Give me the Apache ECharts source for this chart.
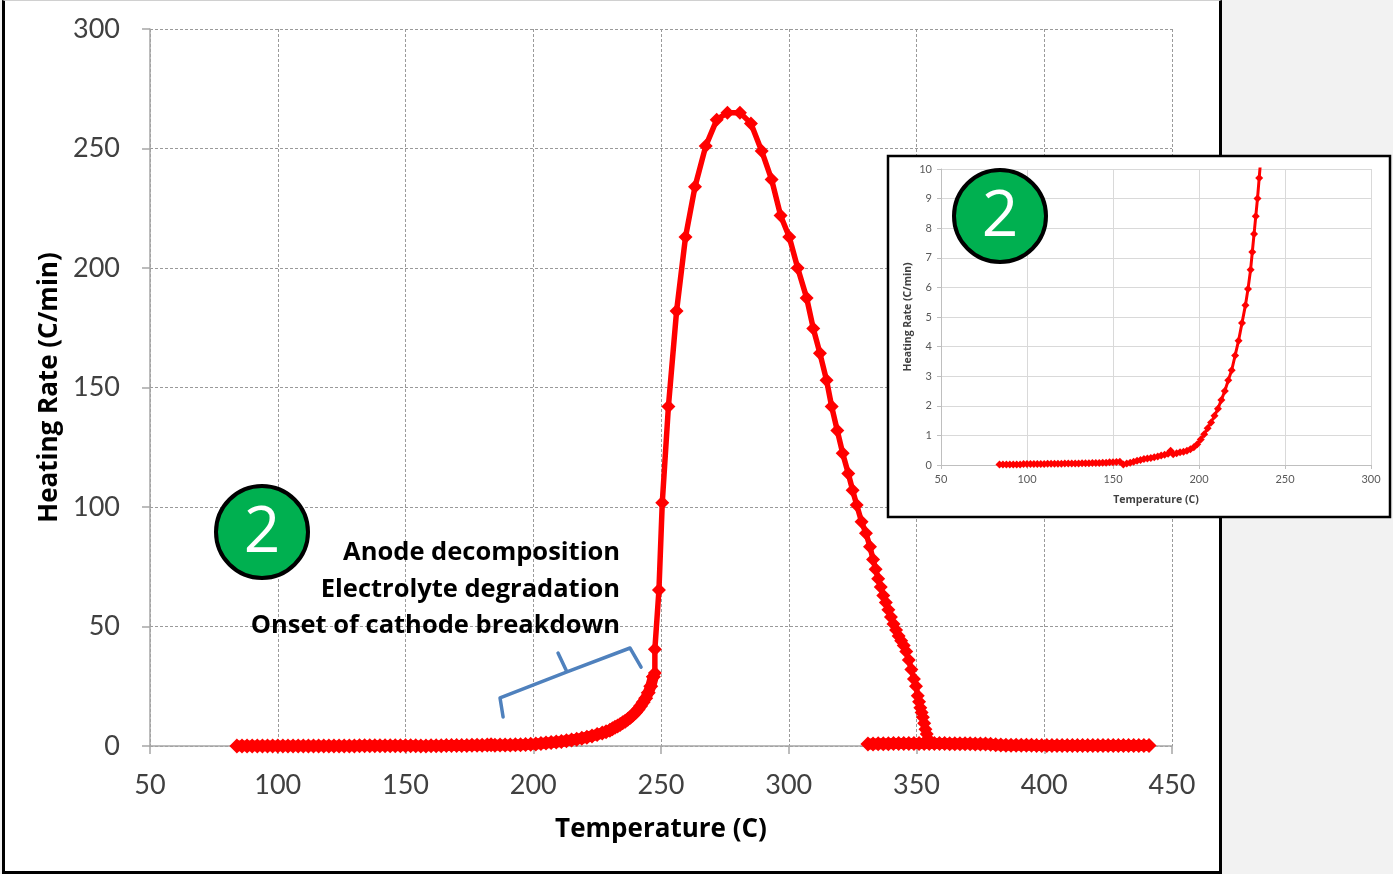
<!DOCTYPE html>
<html>
<head>
<meta charset="utf-8">
<script src="https://cdn.jsdelivr.net/npm/echarts@6/dist/echarts.min.js"></script>
<style>
  html, body { margin: 0; padding: 0; background: #f2f2f2; }
  #panel { position: absolute; left: 2px; top: 0; width: 1214px; height: 870px;
           background: #fff; border: 3px solid #000; border-top: 1px solid #d0d0d0; }
  #chart { position: absolute; left: 0; top: 0; width: 1393px; height: 874px; }
</style>
</head>
<body>
<div id="panel"></div>
<div id="chart"></div>
<script>
// 升温前段（密集采样）: 温度 / 升温速率
var preTemp = [84, 86, 88, 90, 92, 94, 96, 98, 100, 102, 104, 106, 108, 110, 112, 114, 116, 118, 120,
  122, 124, 126, 128, 130, 132, 134, 136, 138, 140, 142, 144, 146, 148, 150, 152, 154, 156, 158, 160,
  162, 164, 166, 168, 170, 172, 174, 176, 178, 180, 182, 183.5, 185, 187, 189, 191, 193, 195, 197, 199,
  201, 203, 205, 207, 209, 211, 213, 215, 217, 219, 221, 223, 225, 227, 228.5, 230, 231, 232, 233, 234,
  235, 236, 237, 238, 239, 240, 241, 242, 243, 244, 245, 246, 247];
var preRate = [0.02, 0.02, 0.02, 0.02, 0.02, 0.02, 0.02, 0.03, 0.03, 0.03, 0.03, 0.03, 0.03, 0.03, 0.04, 0.04, 0.04, 0.04, 0.04,
  0.05, 0.05, 0.05, 0.05, 0.05, 0.06, 0.06, 0.06, 0.07, 0.07, 0.07, 0.08, 0.08, 0.09, 0.09, 0.1, 0.11, 0.02, 0.05, 0.08,
  0.11, 0.14, 0.17, 0.2, 0.22, 0.24, 0.26, 0.29, 0.32, 0.35, 0.38, 0.48, 0.36, 0.4, 0.43, 0.45, 0.48, 0.53, 0.6, 0.7,
  0.86, 1.04, 1.24, 1.44, 1.66, 1.9, 2.2, 2.5, 2.86, 3.2, 3.7, 4.2, 4.8, 5.4, 5.95, 6.6, 7.2, 7.8, 8.4, 9.0,
  9.7, 10.4, 11.2, 12, 13, 14, 15.3, 16.7, 18.3, 20, 22.3, 25, 29];

// 热失控段
var runTemp = [247, 247.6, 247.6, 249.2, 250.5, 252.9, 256.1, 259.6, 263.3, 267.5, 271.8, 276, 280.9, 285.2,
  289.4, 293.3, 296.8, 300.2, 303.5, 307, 309.6, 312.2, 314.8, 316.8, 319, 321.1, 323.3, 325, 326.6, 328.5,
  330.2, 331.8, 333, 334, 335, 336, 337, 338, 339, 340, 341, 342, 343, 344, 345, 346, 347, 348, 349, 349.8,
  350.5, 351, 351.5, 352, 352.5, 353, 353.5, 354, 354.5, 355];
var runRate = [29, 30.5, 40.5, 65.3, 101.8, 142, 182, 213, 234, 251, 262, 265, 265, 260.5,
  249, 237, 222, 213, 200, 187.5, 174.7, 164.3, 153, 142, 132, 122.5, 114, 107, 100.8, 93.8,
  89, 83.4, 78, 74, 70, 66.5, 63, 60, 57, 54, 51, 48.5, 46, 44, 42, 39.5, 36, 32, 28, 25,
  21, 18.5, 16, 14, 12, 9.5, 7, 5, 3, 1.5];

// 热失控后段
var postTemp = [331, 333, 335, 337, 339, 341, 343, 345, 347, 349, 351, 353, 355, 357, 359, 361, 363, 365,
  367, 369, 371, 373, 375, 377, 379, 381, 383, 385, 387, 389, 391, 393, 395, 397, 399, 401, 403, 405,
  407, 409, 411, 413, 415, 417, 419, 421, 423, 425, 427, 429, 431, 433, 435, 437, 439, 441];
var postRate = [0.8, 0.8, 0.9, 0.9, 0.9, 1, 1, 1, 1, 1, 1, 1, 1, 1, 1, 1, 0.9, 0.9,
  0.9, 0.9, 0.9, 0.8, 0.8, 0.8, 0.7, 0.5, 0.4, 0.3, 0.3, 0.3, 0.3, 0.3, 0.3, 0.2, 0.2, 0.2, 0.2, 0.2,
  0.2, 0.2, 0.2, 0.2, 0.2, 0.2, 0.2, 0.2, 0.2, 0.2, 0.2, 0.2, 0.2, 0.2, 0.2, 0.2, 0.2, 0.2];

// 括号标注（数据坐标）
var bracketTemp = [188.2, 187, 213.2, 209.7, 213.2, 237.9, 242.2];
var bracketRate = [12.1, 20.1, 31, 38.9, 31, 41, 33];

var mainTicksX = [50, 450, 50];   // min, max, interval
var mainTicksY = [0, 300, 50];
var insetTicksX = [50, 300, 50];
var insetTicksY = [0, 10, 1];

var notes = ['Anode decomposition', 'Electrolyte degradation', 'Onset of cathode breakdown'];

function pairs(xs, ys) {
  var out = [];
  for (var i = 0; i < xs.length; i++) out.push([xs[i], ys[i]]);
  return out;
}

var FONT = 'Lato, "Open Sans", sans-serif';
var BOLD = '"Open Sans", Lato, sans-serif';
var RED = '#ff0000';

var chart = echarts.init(document.getElementById('chart'));

var mainAxisCommon = {
  type: 'value',
  axisLine: { show: true, lineStyle: { color: '#a6a6a6', width: 1.5 } },
  axisTick: { show: true, inside: false, length: 8, lineStyle: { color: '#a6a6a6', width: 1.5 } },
  splitLine: { show: true, lineStyle: { color: '#9a9a9a', type: [3, 2], width: 1 } },
  axisLabel: { color: '#404040', fontSize: 27, fontFamily: FONT },
  nameTextStyle: { color: '#000', fontSize: 26, fontWeight: 'bold', fontFamily: BOLD },
  nameLocation: 'middle',
  z: 0
};

var insetAxisCommon = {
  type: 'value',
  axisLine: { show: true, lineStyle: { color: '#bfbfbf', width: 1 } },
  axisTick: { show: true, inside: false, length: 4, lineStyle: { color: '#bfbfbf' } },
  splitLine: { show: true, lineStyle: { color: '#d9d9d9', type: 'solid', width: 1 } },
  axisLabel: { color: '#595959', fontSize: 11, fontFamily: FONT },
  nameTextStyle: { color: '#404040', fontSize: 10.5, fontWeight: 'bold', fontFamily: BOLD },
  nameLocation: 'middle',
  z: 4
};

function badge(cx, cy) {
  return [
    { type: 'circle', z: 20, shape: { cx: cx, cy: cy, r: 46 },
      style: { fill: '#00b050', stroke: '#000', lineWidth: 4 } },
    { type: 'text', z: 21, x: cx, y: cy + 2,
      style: { text: '2', fill: '#fff', fontSize: 64, fontFamily: BOLD, align: 'center', verticalAlign: 'middle' } }
  ];
}

var option = {
  animation: false,
  backgroundColor: 'transparent',
  grid: [
    { left: 150, right: 221, top: 29, bottom: 128 },
    { left: 941, right: 22, top: 169, bottom: 409 }
  ],
  xAxis: [
    Object.assign({}, mainAxisCommon, {
      gridIndex: 0, min: mainTicksX[0], max: mainTicksX[1], interval: mainTicksX[2],
      name: 'Temperature (C)', nameGap: 71,
      axisLabel: Object.assign({}, mainAxisCommon.axisLabel, { margin: 26 })
    }),
    Object.assign({}, insetAxisCommon, {
      gridIndex: 1, min: insetTicksX[0], max: insetTicksX[1], interval: insetTicksX[2],
      name: 'Temperature (C)', nameGap: 30,
      axisLabel: Object.assign({}, insetAxisCommon.axisLabel, { margin: 9 })
    })
  ],
  yAxis: [
    Object.assign({}, mainAxisCommon, {
      gridIndex: 0, min: mainTicksY[0], max: mainTicksY[1], interval: mainTicksY[2],
      name: 'Heating Rate (C/min)', nameGap: 86,
      axisLabel: Object.assign({}, mainAxisCommon.axisLabel, { margin: 30 })
    }),
    Object.assign({}, insetAxisCommon, {
      gridIndex: 1, min: insetTicksY[0], max: insetTicksY[1], interval: insetTicksY[2],
      name: 'Heating Rate (C/min)', nameGap: 27,
      axisLabel: Object.assign({}, insetAxisCommon.axisLabel, { margin: 9 })
    })
  ],
  graphic: [
    {
      type: 'rect', z: 3,
      shape: { x: 888, y: 156, width: 502, height: 361 },
      style: { fill: '#fff', stroke: '#000', lineWidth: 2.5 }
    }
  ].concat(badge(262, 532), badge(1000, 216), notes.map(function (t, i) {
    return { type: 'text', z: 20, x: 620, y: 553 + i * 36.5,
      style: { text: t, fill: '#000', fontSize: 25.5, fontWeight: 'bold', fontFamily: BOLD,
               align: 'right', verticalAlign: 'middle' } };
  })),
  series: [
    {
      name: 'pre', type: 'line', xAxisIndex: 0, yAxisIndex: 0, z: 2,
      data: pairs(preTemp, preRate),
      symbol: 'diamond', symbolSize: 15,
      itemStyle: { color: RED }, lineStyle: { color: RED, width: 11 }
    },
    {
      name: 'run', type: 'line', xAxisIndex: 0, yAxisIndex: 0, z: 2,
      data: pairs(runTemp, runRate),
      symbol: 'diamond', symbolSize: 14,
      itemStyle: { color: RED }, lineStyle: { color: RED, width: 5.5 }
    },
    {
      name: 'post', type: 'line', xAxisIndex: 0, yAxisIndex: 0, z: 2,
      data: pairs(postTemp, postRate),
      symbol: 'diamond', symbolSize: 15,
      itemStyle: { color: RED }, lineStyle: { color: RED, width: 11 }
    },
    {
      name: 'bracket', type: 'line', xAxisIndex: 0, yAxisIndex: 0, z: 3,
      data: pairs(bracketTemp, bracketRate),
      showSymbol: false, symbol: 'none',
      lineStyle: { color: '#4f81bd', width: 3.5, join: 'round', cap: 'round' }
    },
    {
      name: 'inset', type: 'line', xAxisIndex: 1, yAxisIndex: 1, z: 6,
      data: pairs(preTemp, preRate), clip: true,
      symbol: 'diamond', symbolSize: 8,
      itemStyle: { color: RED }, lineStyle: { color: RED, width: 3 }
    }
  ]
};

chart.setOption(option);
</script>
</body>
</html>
